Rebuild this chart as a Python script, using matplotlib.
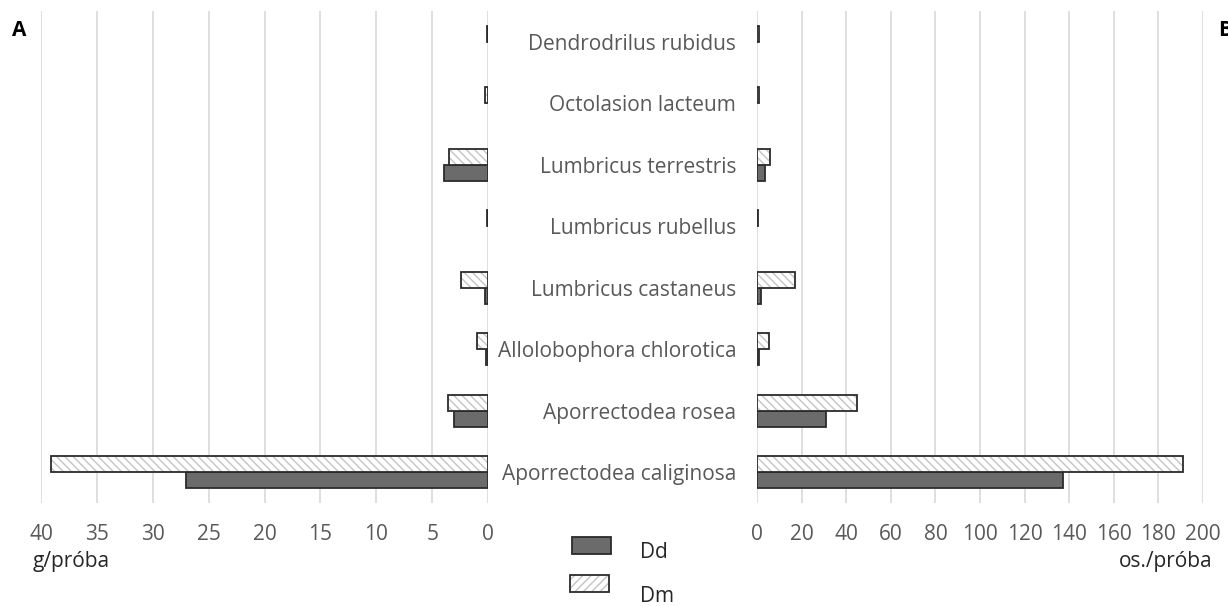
import numpy as np
import matplotlib
matplotlib.use("Agg")
import matplotlib.pyplot as plt
from matplotlib.patches import Rectangle

plt.rcParams['font.family'] = ['Open Sans', 'DejaVu Sans']
plt.rcParams['hatch.linewidth'] = 1.0

# ---- data (bottom to top) ----
categories = ["Aporrectodea caliginosa", "Aporrectodea rosea", "Allolobophora chlorotica",
              "Lumbricus castaneus", "Lumbricus rubellus", "Lumbricus terrestris",
              "Octolasion lacteum", "Dendrodrilus rubidus"]
mass_Dd = [27.0, 3.05, 0.2, 0.25, 0.0, 3.95, 0.0, 0.0]     # g/próba
mass_Dm = [39.1, 3.6, 1.0, 2.45, 0.1, 3.5, 0.3, 0.1]
count_Dd = [137.0, 31.0, 1.0, 1.8, 0.0, 3.6, 0.0, 0.0]     # os./próba
count_Dm = [191.0, 45.0, 5.2, 17.2, 0.6, 5.8, 0.7, 0.7]
mass_ticks = [40, 35, 30, 25, 20, 15, 10, 5, 0]
count_ticks = [0, 20, 40, 60, 80, 100, 120, 140, 160, 180, 200]
series_names = ["Dd", "Dm"]

W, H = 1228, 606
fig = plt.figure(figsize=(W / 100, H / 100), dpi=100)

top_px, bot_px = 11, 503
axL = fig.add_axes([41 / W, (H - bot_px) / H, (488 - 41) / W, (bot_px - top_px) / H])
axR = fig.add_axes([757 / W, (H - bot_px) / H, (1203 - 757) / W, (bot_px - top_px) / H])

y = np.arange(len(categories))
h = 0.26
dark = '#6b6b6b'
edge = '#2b2b2b'
tick_col = '#595959'
fs = 15


def masked(v):
    v = np.asarray(v, dtype=float)
    return np.where(v > 0, v, np.nan)


for ax, dd, dm in [(axL, mass_Dd, mass_Dm), (axR, count_Dd, count_Dm)]:
    ax.barh(y - h / 2, masked(dd), height=h, color=dark, edgecolor=edge, linewidth=1.3, zorder=3)
    ax.barh(y + h / 2, masked(dm), height=h, color='white', hatch='\\\\\\\\',
            edgecolor='#c4c4c4', linewidth=0, zorder=3)
    ax.barh(y + h / 2, masked(dm), height=h, fill=False, edgecolor=edge, linewidth=1.3, zorder=4)
    ax.set_ylim(-0.5, len(categories) - 0.5)
    ax.grid(axis='x', color='#d9d9d9', linewidth=1.2, zorder=0)
    ax.set_axisbelow(True)
    for s in ax.spines.values():
        s.set_visible(False)
    ax.tick_params(axis='x', length=0, labelsize=fs, colors=tick_col, pad=15)

axL.set_xlim(40, 0)
axL.set_xticks(mass_ticks)
axL.set_yticks([])

axR.set_xlim(0, 200)
axR.set_xticks(count_ticks)
axR.set_yticks(y)
axR.set_yticklabels(categories)
axR.tick_params(axis='y', length=0, labelsize=fs, colors=tick_col, pad=15)
for lbl in axR.get_yticklabels():
    lbl.set_y(lbl.get_position()[1])

# overlay in pixel coordinates for legend and annotations
ov = fig.add_axes([0, 0, 1, 1], facecolor='none')
ov.set_xlim(0, W)
ov.set_ylim(H, 0)
ov.axis('off')

ov.add_patch(Rectangle((572, 537), 39, 17, facecolor=dark, edgecolor=edge, linewidth=1.3))
ov.add_patch(Rectangle((570, 575), 39, 17, facecolor='white', hatch='////',
                       edgecolor='#c4c4c4', linewidth=0))
ov.add_patch(Rectangle((570, 575), 39, 17, fill=False, edgecolor=edge, linewidth=1.3))
ov.text(640, 552, series_names[0], fontsize=fs, color='#262626', va='center', ha='left')
ov.text(640, 597, series_names[1], fontsize=fs, color='#262626', va='center', ha='left')

ov.text(12, 31, "A", fontsize=15, fontweight='bold', color='black', va='center', ha='left')
ov.text(1218, 31, "B", fontsize=15, fontweight='bold', color='black', va='center', ha='left')
ov.text(33, 561, "g/próba", fontsize=fs, color='#262626', va='center', ha='left')
ov.text(1213, 561, "os./próba", fontsize=fs, color='#262626', va='center', ha='right')

fig.savefig("out.png", dpi=100)
